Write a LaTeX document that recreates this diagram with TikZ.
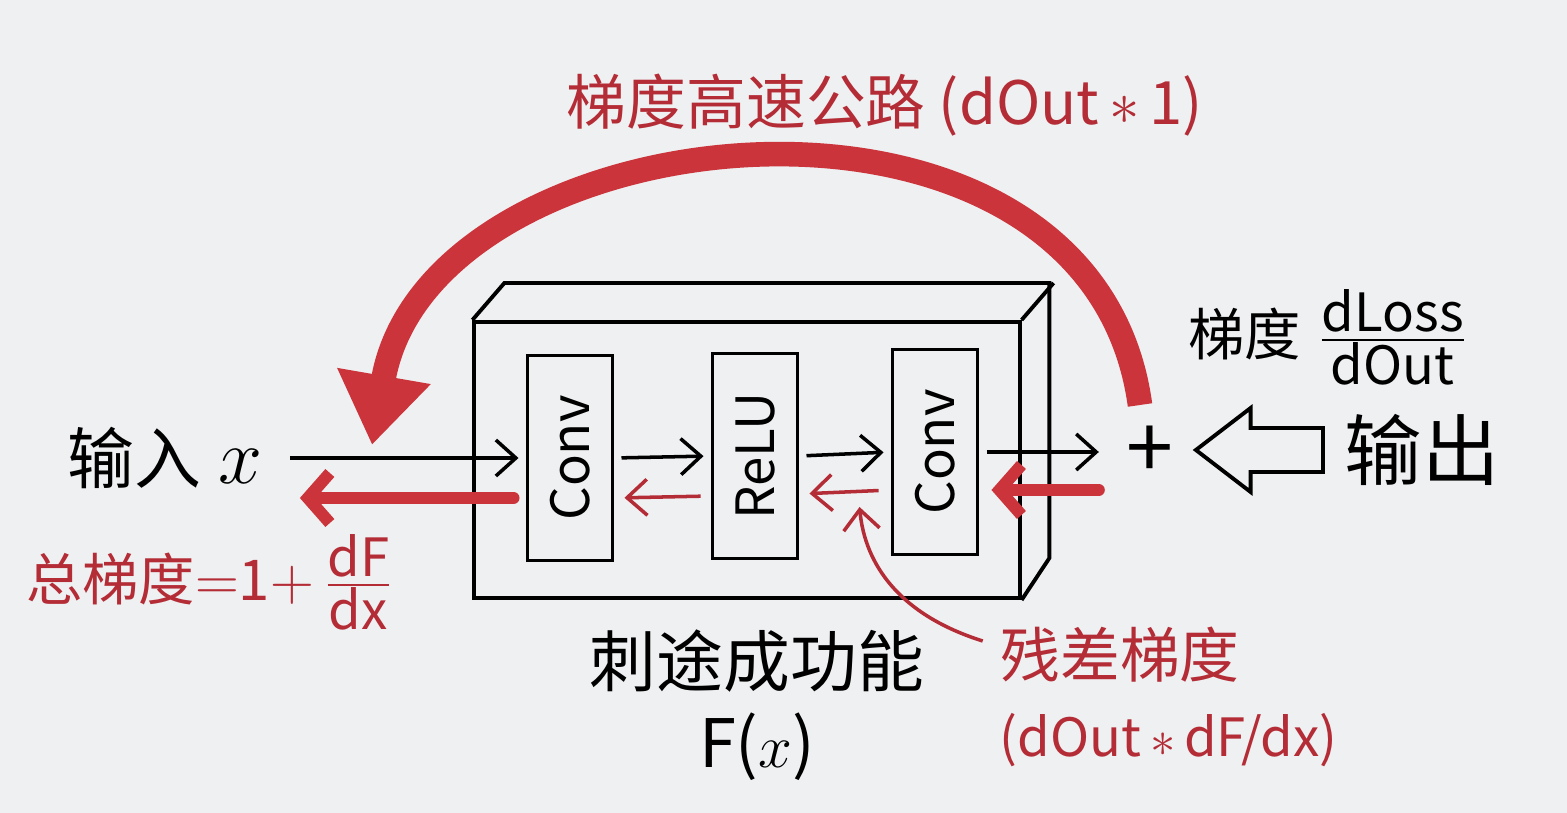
\documentclass[tikz,border=0pt]{standalone}
\usepackage{fontspec}
\setmainfont{Noto Sans CJK SC}
\usepackage{tikz}
\usetikzlibrary{arrows.meta, positioning, shapes.arrows, calc}
\definecolor{paper}{RGB}{238,240,241}
\definecolor{hwred}{RGB}{204,52,60}
\definecolor{txtred}{RGB}{180,44,54}
\newcommand{\fracpart}[1]{\mbox{\fontsize{15}{15}\selectfont #1}}

\begin{document}
\begin{tikzpicture}[x=0.01cm, y=-0.01cm,
  face/.style={draw, line width=1.1pt, minimum width=5.45cm,
    minimum height=2.76cm},
  layer/.style={draw, line width=1.1pt, minimum width=0.85cm,
    minimum height=2.05cm, inner sep=0pt,
    font=\fontsize{15}{18}\selectfont},
  fwd/.style={-{Straight Barb[length=0.2cm, width=0.36cm]},
    line width=1pt},
  bwthin/.style={-{Straight Barb[length=0.2cm, width=0.36cm]},
    line width=1pt, draw=txtred},
  bwthick/.style={-{Straight Barb[length=0.22cm, width=0.5cm]},
    line width=3.4pt, draw=hwred, line cap=round},
  highway/.style={-{Triangle[length=0.7cm, width=0.9cm]},
    line width=7pt, draw=hwred},
  lbl/.style={font=\fontsize{17}{20}\selectfont, inner sep=2pt},
  redlbl/.style={lbl, text=txtred}
]
\useasboundingbox (0,0) rectangle (1567,813);
\fill[paper] (0,0) rectangle (1567,813);

%% ── Residual block ──
\node[face] (block) at (747,460) {};
\draw[line width=1.1pt] (block.north west) -- ++(32,-37) -- ++(545,0)
  -- ++(0,275) -- (block.south east);
\draw[line width=1.1pt] (block.north east) -- ++(32,-37);

\node[layer] (conv1) at (570,458) {\rotatebox{90}{Conv}};
\node[layer] (relu)  at (755,456) {\rotatebox{90}{ReLU}};
\node[layer] (conv2) at (935,452) {\rotatebox{90}{Conv}};

%% ── Labels ──
\node[lbl, font=\fontsize{19}{22}\selectfont] (inx) at (165,458)
  {输入\hspace{0.25em}\scalebox{1.3}{$x$}};
\node[lbl, font=\fontsize{24}{24}\selectfont] (plus) at (1150,452) {+};
\node[lbl, font=\fontsize{22}{24}\selectfont] (outp) at (1422,450) {输出};
\node[single arrow, draw, line width=1.1pt, fill=paper,
  shape border rotate=180, minimum height=1.27cm, inner sep=0.2cm,
  single arrow head extend=0.2cm, single arrow tip angle=75,
  left=0.12cm of outp] (outarr) {};
\node[lbl, font=\fontsize{16}{19}\selectfont] (dloss) at (1328,337)
  {梯度\hspace{0.3em}$\frac{\fracpart{dLoss}}{\fracpart{dOut}}$};

\node[redlbl] (hwlbl) at (885,105) {梯度高速公路 (dOut\,$*$\,1)};
\node[redlbl, font=\fontsize{16}{19}\selectfont] (total) at (210,582)
  {总梯度$=$1$+$\,$\frac{\fracpart{dF}}{\fracpart{dx}}$};
\node[lbl, align=center, font=\fontsize{19}{23}\selectfont] (func)
  at (757,705) {刺途成功能\\F($x$)};
\node[redlbl] (resgrad) at (1120,655) {残差梯度};
\node[redlbl, anchor=west, font=\fontsize{15}{18}\selectfont] (resgradf)
  at (992,740) {(dOut\,$*$\,dF/dx)};

%% ── Forward pass ──
\draw[fwd, shorten <=0.2cm, shorten >=2pt] (inx.east) -- (conv1.west);
\draw[fwd, shorten <=2pt, shorten >=2pt] (conv1.east) -- (relu.west);
\draw[fwd, shorten <=2pt, shorten >=2pt] (relu.east) -- (conv2.west);
\draw[fwd, shorten <=2pt, shorten >=0.2cm] (conv2.east) -- (plus.west);

%% ── Backward pass ──
\draw[bwthick, shorten >=0.12cm] ([shift={(-20,38)}]plus.west)
  -- ([shift={(0,38)}]conv2.east);
\draw[bwthin, shorten <=0.12cm, shorten >=0.1cm] ([shift={(0,38)}]conv2.west)
  -- ([shift={(0,38)}]relu.east);
\draw[bwthin, shorten <=0.1cm, shorten >=0.1cm] ([shift={(0,40)}]relu.west)
  -- ([shift={(0,40)}]conv1.east);
\draw[bwthick] ([shift={(-12,40)}]conv1.west)
  -- ([shift={(30,40)}]inx.east);
\draw[bwthin] ([shift={(-10,-14)}]resgrad.west)
  .. controls (900,615) and (865,565) .. ([shift={(-31,55)}]conv2.west);

%% ── Gradient highway ──
\coordinate (hwstart) at (1140,405);
\coordinate (hwend) at (372,445);
\draw[highway] (hwstart) .. controls (1090,40) and (430,110) .. (hwend);

\end{tikzpicture}
\end{document}
